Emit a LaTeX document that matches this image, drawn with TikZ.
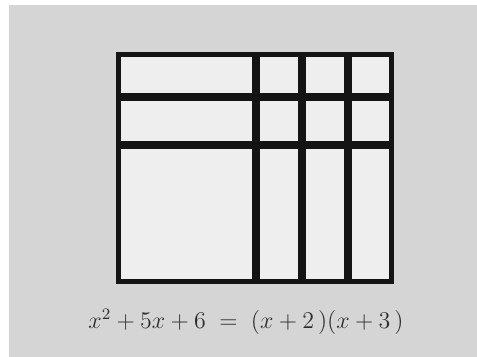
\documentclass[tikz,border=0pt]{standalone}
\usepackage{xcolor}
\definecolor{cPaper}{HTML}{D5D5D5}
\definecolor{cTile}{HTML}{EEEEEE}
\definecolor{cInk}{HTML}{141414}
\definecolor{cPen}{HTML}{2E2E2E}
\usepackage{tikz}
\tikzset{
  tile/.style={draw=cInk,fill=cTile,line width=2.6},
  eqn/.style={text=cPen,font=\fontsize{12}{14}\selectfont,inner sep=0pt},
}

\begin{document}
\begin{tikzpicture}[x=0.5pt,y=-0.5pt]
  \useasboundingbox (0,0) rectangle (477,357);
  \fill[white] (0,0) rectangle (477,357);
  \fill[cPaper] (9,5) rectangle (477,357);
  % x^2 tile
  \draw[tile] (118.5,146.5) rectangle (254.5,281.5);
  % x tiles, horizontal
  \foreach \ya/\yb in {53/97,97/145}
    \draw[tile] (118.5,\ya+1.5) rectangle (254.5,\yb-1.5);
  % x tiles, vertical
  \foreach \xa/\xb in {256/302,302/348,348/393}
    \draw[tile] (\xa+1.5,146.5) rectangle (\xb-1.5,281.5);
  % unit tiles
  \foreach \xa/\xb in {256/302,302/348,348/393}
    \foreach \ya/\yb in {53/97,97/145}
      \draw[tile] (\xa+1.5,\ya+1.5) rectangle (\xb-1.5,\yb-1.5);
  \node[eqn] (eq) at (246,322) {$x^2+5x+6 \;=\; (x+2\,)(x+3\,)$};
\end{tikzpicture}
\end{document}
